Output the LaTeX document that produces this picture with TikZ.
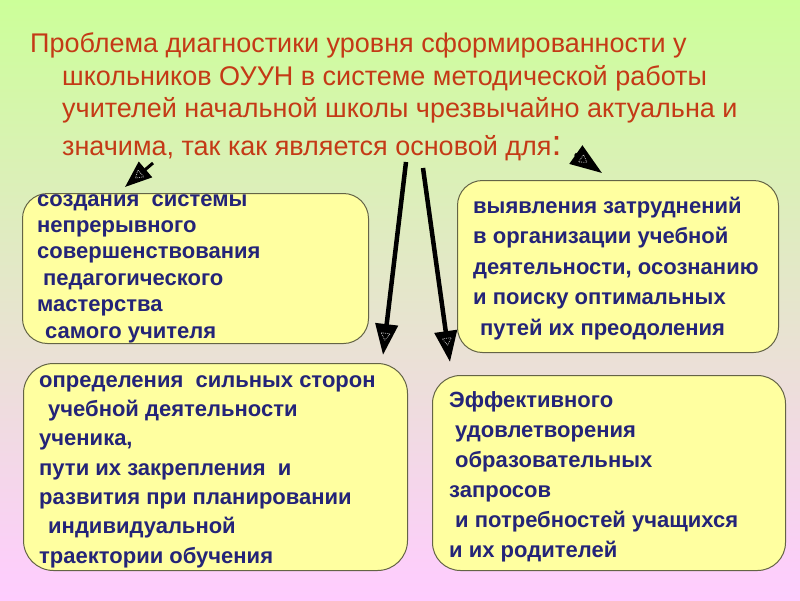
\documentclass[tikz,border=0pt]{standalone}
\usepackage{fontspec}
\setmainfont{Liberation Sans}
\usetikzlibrary{arrows.meta,shapes.geometric}

\definecolor{titlered}{RGB}{196,58,22}
\definecolor{textblue}{RGB}{36,36,120}
\definecolor{boxfill}{RGB}{255,255,160}
\definecolor{boxline}{RGB}{100,100,70}
\definecolor{bgtop}{RGB}{204,255,153}
\definecolor{bgbottom}{RGB}{255,204,255}

\tikzset{
  box/.style={draw=boxline, line width=1pt, fill=boxfill, anchor=north west, inner sep=0pt},
  boxtext/.style={anchor=base west, align=left, inner sep=0pt, text=textblue},
  arr/.style={line width=4.5pt, -{Triangle[length=31pt,width=22pt]}},
  smallarr/.style={line width=3pt, -{Triangle[length=27pt,width=20pt]}},
  headmark/.style={isosceles triangle, isosceles triangle stretches, draw=black!25, densely dotted,
                   line width=0.8pt, minimum width=9pt, minimum height=7pt, inner sep=0pt,
                   sloped, allow upside down},
}

\begin{document}
\begin{tikzpicture}[x=1pt, y=-1pt]
    \useasboundingbox (0,0) rectangle (800,600);
    \fill[top color=bgtop, bottom color=bgbottom] (0,0) rectangle (800,600);
    % title (base anchor = last line)
    \node[anchor=base west, align=left, inner sep=0pt, text=titlered,
          font=\fontsize{27}{32.5}\selectfont] (title) at (30,155)
        {Проблема диагностики уровня сформированности у\\
         \hspace*{32pt}школьников ОУУН в системе методической работы\\
         \hspace*{32pt}учителей начальной школы чрезвычайно актуальна и\\[5pt]
         \hspace*{32pt}значима, так как является основой для{\fontsize{36}{36}\selectfont:}};
    % boxes
    \node[box, rounded corners=25pt, minimum width=346pt, minimum height=150pt] (boxA) at (22,193) {};
    \node[box, rounded corners=25pt, minimum width=321pt, minimum height=172pt] (boxB) at (457,180) {};
    \node[box, rounded corners=30pt, minimum width=384pt, minimum height=207pt] (boxC) at (23,363) {};
    \node[box, rounded corners=28pt, minimum width=353pt, minimum height=195pt] (boxD) at (432,375) {};
    % box texts
    \node[boxtext, font=\bfseries\fontsize{22}{26.4}\selectfont] (txtA) at (37,338)
        {создания \ системы\\
         непрерывного\\
         совершенствования\\
         \hspace*{6pt}педагогического\\
         мастерства\\
         \hspace*{8pt}самого учителя};
    \node[boxtext, font=\bfseries\fontsize{22}{30.5}\selectfont] (txtB) at (473,335)
        {выявления затруднений\\
         в организации учебной\\
         деятельности, осознанию\\
         и поиску оптимальных\\
         \hspace*{7pt}путей их преодоления};
    \node[boxtext, font=\bfseries\fontsize{22}{29.3}\selectfont] (txtC) at (39,563)
        {определения \ сильных сторон\\
         \hspace*{9pt}учебной деятельности\\
         ученика,\\
         пути их закрепления \ и\\
         развития при планировании\\
         \hspace*{9pt}индивидуальной\\
         траектории обучения};
    \node[boxtext, font=\bfseries\fontsize{22}{30}\selectfont] (txtD) at (449,557)
        {Эффективного\\
         \hspace*{6pt}удовлетворения\\
         \hspace*{6pt}образовательных\\
         запросов\\
         \hspace*{6pt}и потребностей учащихся\\
         и их родителей};
    % arrows
    \coordinate (srcA) at (153,163);
    \coordinate (srcC) at (406,162);
    \coordinate (srcD) at (423,168);
    \coordinate (srcB) at (575,154);
    \coordinate (tipA) at ([shift={(103,-6)}]boxA.north west);
    \coordinate (tipC) at ([shift={(-25,-8)}]boxC.north east);
    \coordinate (tipD) at ([shift={(18,-13)}]boxD.north west);
    \coordinate (tipB) at ([shift={(145,-7)}]boxB.north west);
    \draw[smallarr] (srcA) -- (tipA);
    \draw[arr] (srcC) -- (tipC);
    \draw[arr] (srcD) -- (tipD);
    \draw[line width=3pt, -{Triangle[length=32pt,width=22pt]}] (srcB) -- (tipB);
    % light marks inside the heads
    \path (srcA) -- (tipA) node[headmark, pos=0.5] (markA) {};
    \path (srcC) -- (tipC) node[headmark, pos=0.9] (markC) {};
    \path (srcD) -- (tipD) node[headmark, pos=0.89] (markD) {};
    \path (srcB) -- (tipB) node[headmark, pos=0.3] (markB) {};
\end{tikzpicture}
\end{document}
